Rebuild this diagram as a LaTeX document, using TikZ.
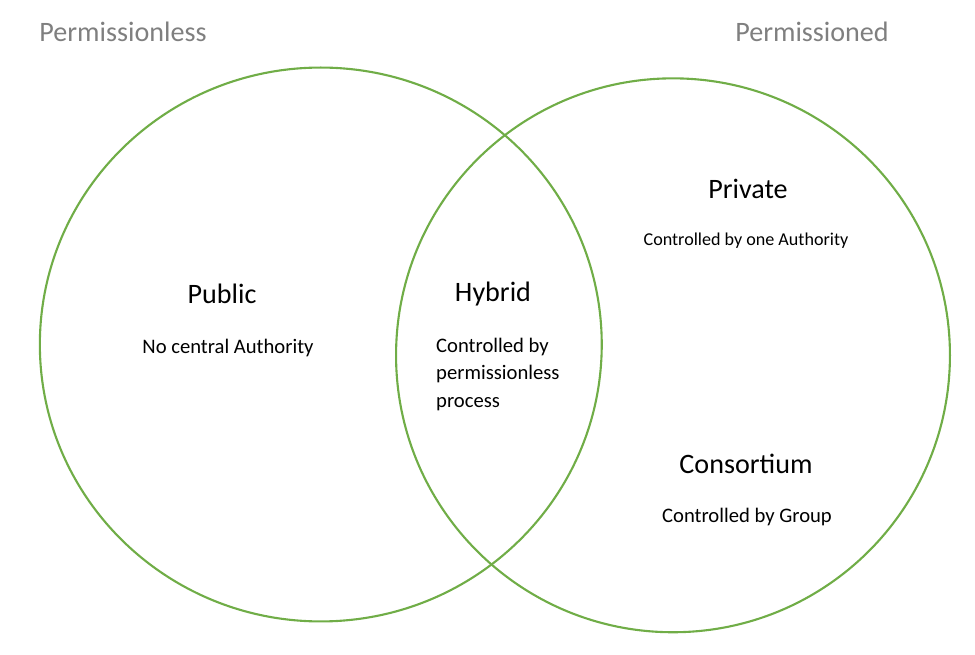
\documentclass[tikz,border=0pt]{standalone}
\usepackage{fontspec}
\setmainfont{Carlito}
\usepackage{xcolor}
\usepackage{tikz}
\usetikzlibrary{positioning,shapes.geometric}
\definecolor{setgreen}{HTML}{70AD47}
\definecolor{headgray}{HTML}{7F7F7F}
\tikzset{set node/.style={ellipse,draw=setgreen,line width=1.2pt,inner sep=0pt},
	head node/.style={text=headgray,font=\fontsize{16}{18}\selectfont},
	kind node/.style={font=\fontsize{16}{18}\selectfont},
	note node/.style={font=\fontsize{11.75}{15.6}\selectfont,align=left},}

\begin{document}
\begin{tikzpicture}[x=0.02cm,y=-0.02cm]
	\useasboundingbox (0,0) rectangle (975,655);
    \node[set node,minimum width=11.24cm,minimum height=11.08cm] (left) at (320.8,344.5) {};
    \node[set node,minimum width=11.08cm,minimum height=11.08cm] (right) at (673,355.3) {};

    \node[head node] (less) at (123,32) {Permissionless};
    \node[head node] (ned) at (812,32) {Permissioned};

    \node[kind node] (public) at (222,294) {Public};
    \node[note node] (publicnote) at (228,348) {No central Authority};

    \node[kind node] (hybrid) at (493,294) {Hybrid};
    \node[note node,anchor=north west] (hybridnote) at (430,332) {Controlled by\\permissionless\\process};

    \node[kind node] (private) at (748,189) {Private};
    \node[note node,font=\fontsize{10.3}{13}\selectfont] (privatenote) at (746,240.5) {Controlled by one Authority};

    \node[kind node] (consortium) at (746,464) {Consortium};
    \node[note node] (consortiumnote) at (747,517) {Controlled by Group};
	\end{tikzpicture}
\end{document}
